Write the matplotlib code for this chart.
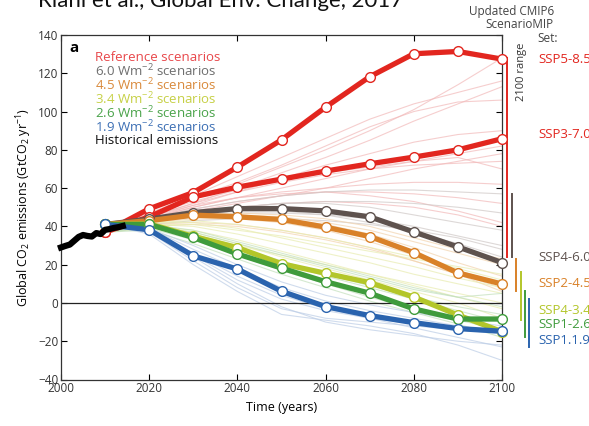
import matplotlib
matplotlib.use('Agg')
import matplotlib.pyplot as plt
import numpy as np

plt.rcParams['font.family'] = ['Open Sans', 'DejaVu Sans']
plt.rcParams['mathtext.default'] = 'regular'

# ---- data ----
decades = [2010, 2020, 2030, 2040, 2050, 2060, 2070, 2080, 2090, 2100]

hist_years = [2000, 2001, 2002, 2003, 2004, 2005, 2006, 2007, 2008, 2009, 2010, 2011, 2012, 2013, 2014]
hist_co2 = [29.0, 29.8, 30.5, 32.5, 34.5, 35.5, 35.0, 34.7, 36.5, 36.0, 38.2, 38.6, 39.2, 39.6, 40.2]

ssp_names = ['SSP5-8.5', 'SSP3-7.0', 'SSP4-6.0', 'SSP2-4.5', 'SSP4-3.4', 'SSP1-2.6', 'SSP1.1.9']
ssp585 = [37, 49.2, 57.7, 71.0, 85.2, 102.3, 118.2, 130.2, 131.4, 127.4]
ssp370 = [37, 45.0, 55.4, 60.5, 64.7, 68.9, 72.7, 76.2, 80.0, 85.8]
ssp460 = [41, 43.8, 47.2, 49.3, 49.3, 48.1, 45.0, 37.1, 29.3, 21.1]
ssp245 = [41, 43.0, 45.9, 45.0, 43.6, 39.6, 34.7, 26.3, 15.7, 9.9]
ssp434 = [41, 41.3, 34.8, 28.9, 20.5, 15.5, 10.6, 3.1, -6.3, -15.0]
ssp126 = [41, 41.0, 34.2, 25.6, 18.2, 11.1, 5.1, -3.1, -8.4, -8.4]
ssp119 = [41, 38.2, 24.6, 17.7, 6.1, -1.9, -6.6, -10.3, -13.4, -14.8]
ssp_series = [ssp585, ssp370, ssp460, ssp245, ssp434, ssp126, ssp119]
ssp_label_y = [127, 88, 23.5, 10, -4.2, -11.5, -19.4]

# background scenario fans
ref_faint = [
    [37, 47, 56, 66, 76, 86, 96, 104, 110, 116],
    [37, 46, 54, 62, 71, 80, 90, 101, 114, 128],
    [37, 45, 52, 60, 68, 76, 85, 95, 104, 113],
    [37, 46, 55, 63, 72, 82, 92, 100, 105, 106],
    [37, 44, 50, 55, 60, 65, 70, 74, 78, 82],
    [37, 45, 52, 58, 63, 67, 70, 72, 73, 74],
    [37, 44, 50, 55, 58, 60, 62, 63, 63, 62],
    [37, 44, 49, 53, 56, 58, 58, 57, 55, 52],
    [37, 45, 51, 55, 57, 58, 56, 53, 48, 42],
    [37, 43, 48, 52, 56, 60, 65, 70, 74, 78],
    [37, 44, 51, 58, 65, 72, 78, 84, 88, 90],
    [37, 43, 47, 50, 52, 53, 52, 50, 46, 40],
    [37, 46, 53, 59, 64, 68, 71, 74, 76, 70],
]
w60_faint = [
    [37, 43, 47, 50, 52, 53, 53, 52, 50, 47],
    [37, 44, 49, 53, 56, 58, 59, 59, 58, 57],
    [37, 42, 45, 47, 47, 46, 44, 40, 35, 30],
    [37, 43, 46, 48, 48, 46, 42, 37, 31, 24],
    [37, 42, 46, 50, 52, 52, 50, 46, 42, 38],
    [37, 41, 43, 44, 44, 43, 41, 38, 34, 28],
]
w45_faint = [
    [37, 42, 45, 46, 45, 42, 38, 32, 26, 20],
    [37, 43, 46, 47, 46, 44, 40, 34, 28, 23],
    [37, 41, 42, 41, 38, 34, 29, 22, 15, 8],
    [37, 42, 44, 44, 42, 38, 32, 25, 17, 10],
    [37, 40, 41, 40, 37, 33, 28, 22, 15, 6],
    [37, 42, 45, 45, 44, 41, 36, 29, 21, 14],
]
w34_faint = [
    [37, 41, 40, 36, 31, 26, 21, 15, 10, 5],
    [37, 42, 42, 39, 34, 29, 24, 19, 13, 8],
    [37, 40, 38, 33, 27, 21, 15, 9, 3, -3],
    [37, 41, 41, 38, 35, 31, 27, 23, 19, 15],
    [37, 40, 37, 31, 24, 18, 12, 6, 0, -8],
    [37, 42, 43, 41, 38, 34, 29, 24, 18, 12],
    [37, 39, 36, 30, 25, 20, 15, 10, 5, 0],
]
w26_faint = [
    [37, 40, 36, 29, 22, 15, 9, 3, -2, -6],
    [37, 41, 38, 32, 26, 20, 14, 8, 3, -2],
    [37, 39, 33, 25, 17, 10, 3, -3, -9, -14],
    [37, 40, 37, 31, 25, 19, 13, 7, 3, 5],
    [37, 38, 31, 23, 15, 8, 1, -5, -11, -18],
    [37, 40, 35, 28, 21, 14, 8, 2, -4, -10],
]
w19_faint = [
    [41, 38, 25, 12, 2, -4, -8, -11, -13, -15],
    [41, 37, 22, 8, -3, -8, -10, -12, -14, -16],
    [41, 39, 28, 18, 8, 1, -4, -8, -12, -15],
    [41, 38, 26, 14, 4, -3, -8, -13, -18, -23],
    [41, 36, 20, 6, -6, -9, -12, -16, -22, -30],
    [41, 39, 30, 20, 11, 4, -1, -5, -9, -12],
    [41, 38, 24, 10, -2, -10, -14, -17, -20, -22],
]
faint_groups = [ref_faint, w60_faint, w45_faint, w34_faint, w26_faint, w19_faint]

# 2100 ranges per forcing category
range_lo = [24, 24, 6, -9, -18, -23]
range_hi = [128, 57, 23, 16, 6, 2]

legend_lines = ['Reference scenarios', '6.0 Wm$^{-2}$ scenarios', '4.5 Wm$^{-2}$ scenarios',
                '3.4 Wm$^{-2}$ scenarios', '2.6 Wm$^{-2}$ scenarios', '1.9 Wm$^{-2}$ scenarios',
                'Historical emissions']

# ---- styles ----
cat_colors = ['#e2261f', '#5e524e', '#d98128', '#b3c62a', '#3f9b3c', '#2a63ae']
faint_colors = ['#f2b9b9', '#cfc8c6', '#f2d3ad', '#e8ecb0', '#c3e0bc', '#bccde6']
ssp_colors = ['#e2261f', '#e2261f', '#5e524e', '#d98128', '#b3c62a', '#3f9b3c', '#2a63ae']
label_colors = ['#e8474a', '#6e6e6e', '#d98a3c', '#c6d045', '#4aa34a', '#3c6fb4', '#111111']
range_x = [2101.1, 2102.3, 2103.2, 2104.2, 2105.2, 2106.2]

fig = plt.figure(figsize=(5.89, 4.26), dpi=100)
ax = fig.add_axes([61/589, 1-379.5/426, 441/589, 344.5/426])

for grp, c in zip(faint_groups, faint_colors):
    for ln in grp:
        ax.plot(decades, ln, color=c, lw=0.8, alpha=0.7, zorder=1)

ax.axhline(0, color='#222222', lw=0.9, zorder=2)

for vals, c in zip(ssp_series, ssp_colors):
    ax.plot(decades, vals, color=c, lw=3.8, zorder=3, solid_capstyle='round')
    ax.plot(decades, vals, ls='none', marker='o', ms=7, mfc='white', mec=c, mew=1.0,
            zorder=4, clip_on=False)

ax.plot(hist_years, hist_co2, color='black', lw=4.5, zorder=5, clip_on=False)

for x, lo, hi, c in zip(range_x, range_lo, range_hi, cat_colors):
    ax.plot([x, x], [lo, hi], color=c, lw=1.4, clip_on=False, zorder=2)

ax.set_xlim(2000, 2100)
ax.set_ylim(-40, 140)
ax.set_xticks(np.arange(2000, 2101, 20))
ax.set_yticks(np.arange(-40, 141, 20))
ax.tick_params(direction='in', top=True, right=True, length=4, width=0.8,
               labelsize=8.5, labelcolor='#333333', pad=2)
for s in ax.spines.values():
    s.set_linewidth(0.9)
    s.set_color('#333333')

ax.set_xlabel('Time (years)', fontsize=9, labelpad=4)
ax.set_ylabel('Global CO$_2$ emissions (GtCO$_2$ yr$^{-1}$)', fontsize=9, labelpad=3)

ax.text(0.02, 0.962, 'a', transform=ax.transAxes, fontsize=11, fontweight='bold', va='center')
for i, (t, c) in enumerate(zip(legend_lines, label_colors)):
    ax.text(0.077, 0.936 - i*0.0406, t, transform=ax.transAxes, color=c, fontsize=9.5, va='center')

for name, y, c in zip(ssp_names, ssp_label_y, ssp_colors):
    ax.text(2108.2, y, name, color=c, fontsize=9.5, va='center', clip_on=False)

ax.text(2104.5, 121, '2100 range', rotation=90, fontsize=8, va='center', ha='center', color='#333333')

fig.text(554/589, 1-11/426, 'Updated CMIP6', ha='right', va='center', fontsize=8.5, color='#444444')
fig.text(554/589, 1-25/426, 'ScenarioMIP', ha='right', va='center', fontsize=8.5, color='#444444')
fig.text(537/589, 1-38/426, 'Set:', ha='left', va='center', fontsize=8.5, color='#444444')
fig.text(38/589, 1-7/426, 'Riahi et al., Global Env. Change, 2017', ha='left', va='baseline',
         fontsize=16, color='#111111', family=['Lato', 'DejaVu Sans'])

fig.savefig('out.png', dpi=100)
